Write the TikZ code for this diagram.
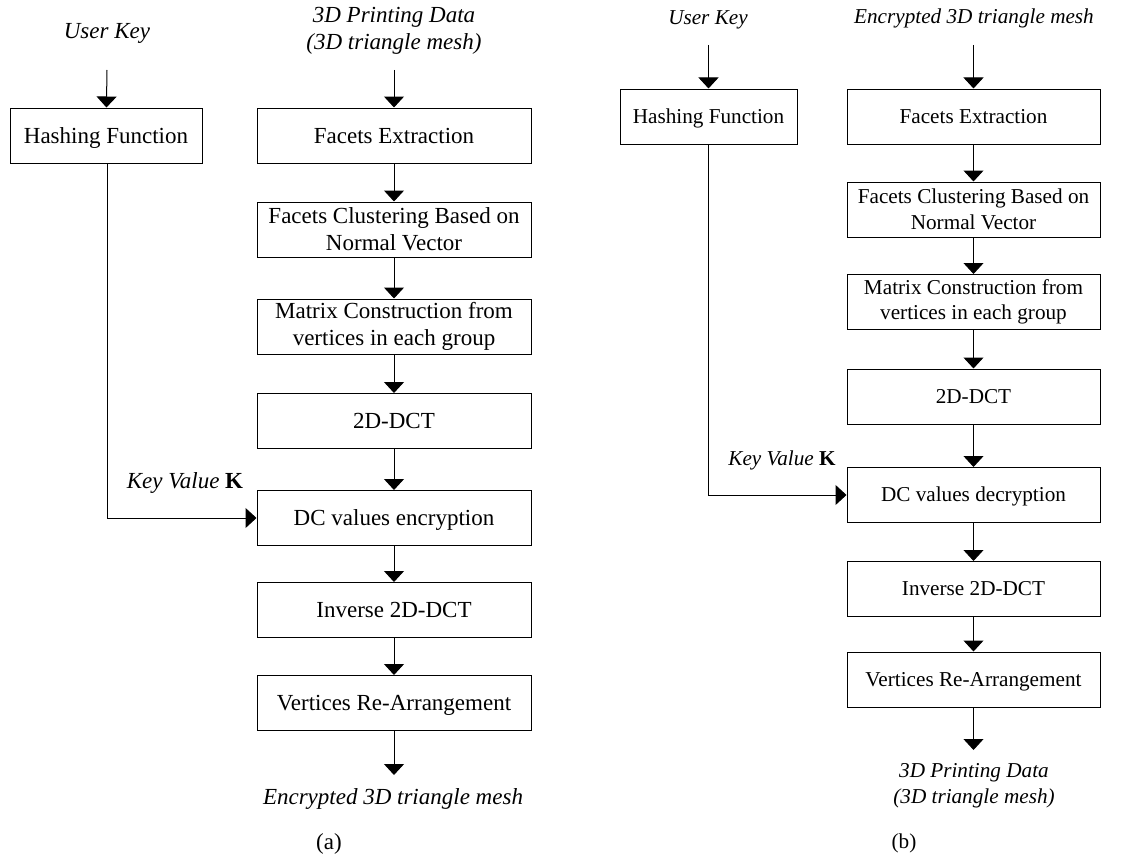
\documentclass[tikz,border=0pt]{standalone}
\usepackage{fontspec}
\setmainfont{Liberation Serif}
\usetikzlibrary{arrows.meta}
\tikzset{
  fa/.style={font=\fontsize{23}{27}\selectfont},
  fb/.style={font=\fontsize{21.2}{25.5}\selectfont},
  box/.style={draw, line width=1pt, minimum height=55pt, inner sep=0pt, align=center},
  onea/.style={text height=20pt, text depth=5pt},
  oneb/.style={text height=18.4pt, text depth=4.6pt},
  lbl/.style={inner sep=0pt, align=center},
  arr/.style={-{Triangle[width=20pt,length=11pt]}, line width=1pt}
}
\begin{document}
\begin{tikzpicture}[x=1pt,y=-1pt]
\useasboundingbox (0,0) rectangle (1146,859);
% ---------- (a) ----------
\begin{scope}[every node/.append style={fa}]
\node[lbl] (uk1) at (107,33) {\textit{User Key}};
\coordinate (uk1s) at (107,70);
\node[box, onea, minimum width=192pt] (hf1) at (106,135.5) {Hashing Function};
\node[lbl] (pd1) at (394,31) {\textit{3D Printing Data}\\\textit{(3D triangle mesh)}};
\coordinate (pd1s) at (394,70);
\node[box, onea, minimum width=274pt] (fe1) at (394,135.5) {Facets Extraction};
\node[box, minimum width=274pt] (fc1) at (394,229.5) {Facets Clustering Based on\\Normal Vector};
\node[box, minimum width=274pt] (mc1) at (394,326.5) {Matrix Construction from\\vertices in each group};
\node[box, onea, minimum width=274pt] (dct1) at (394,421) {2D-DCT};
\node[box, onea, minimum width=274pt] (dc1) at (394,518) {DC values encryption};
\node[box, onea, minimum width=274pt] (inv1) at (394,610) {Inverse 2D-DCT};
\node[box, onea, minimum width=274pt] (vr1) at (394,703) {Vertices Re-Arrangement};
\coordinate (out1n) at (394,775);
\node[lbl] (out1) at (393,799) {\textit{Encrypted 3D triangle mesh}};
\node[lbl] (kv1) at (185,483) {\textit{Key Value} \textbf{K}};
\node[lbl] (capa) at (329,844) {(a)};
\end{scope}
\draw[arr] (uk1s) -- (hf1);
\draw[arr] (pd1s) -- (fe1);
\draw[arr] (fe1) -- (fc1);
\draw[arr] (fc1) -- (mc1);
\draw[arr] (mc1) -- (dct1);
\draw[arr] (dct1) -- (dc1);
\draw[arr] (dc1) -- (inv1);
\draw[arr] (inv1) -- (vr1);
\draw[arr] (vr1) -- (out1n);
\draw[arr] ([xshift=1pt]hf1.south) |- (dc1.west);
% ---------- (b) ----------
\begin{scope}[every node/.append style={fb}]
\node[lbl] (uk2) at (708,20) {\textit{User Key}};
\coordinate (uk2s) at (708.5,45);
\node[box, oneb, minimum width=177pt] (hf2) at (708.5,116.5) {Hashing Function};
\node[lbl] (enc2) at (974,18) {\textit{Encrypted 3D triangle mesh}};
\coordinate (enc2s) at (973.5,45);
\node[box, oneb, minimum width=253pt] (fe2) at (973.5,116.5) {Facets Extraction};
\node[box, minimum width=253pt] (fc2) at (973.5,209.5) {Facets Clustering Based on\\Normal Vector};
\node[box, minimum width=253pt] (mc2) at (973.5,302) {Matrix Construction from\\vertices in each group};
\node[box, oneb, minimum width=253pt] (dct2) at (973.5,396.5) {2D-DCT};
\node[box, oneb, minimum width=253pt] (dc2) at (973.5,495) {DC values decryption};
\node[box, oneb, minimum width=253pt] (inv2) at (973.5,589) {Inverse 2D-DCT};
\node[box, oneb, minimum width=253pt] (vr2) at (973.5,679.5) {Vertices Re-Arrangement};
\coordinate (out2n) at (973.5,750);
\node[lbl] (pd2) at (974,785.5) {\textit{3D Printing Data}\\\textit{(3D triangle mesh)}};
\node[lbl] (kv2) at (782,460) {\textit{Key Value} \textbf{K}};
\node[lbl] (capb) at (904,843) {(b)};
\end{scope}
\draw[arr] (uk2s) -- (hf2);
\draw[arr] (enc2s) -- (fe2);
\draw[arr] (fe2) -- (fc2);
\draw[arr] (fc2) -- (mc2);
\draw[arr] (mc2) -- (dct2);
\draw[arr] (dct2) -- (dc2);
\draw[arr] (dc2) -- (inv2);
\draw[arr] (inv2) -- (vr2);
\draw[arr] (vr2) -- (out2n);
\draw[arr] (hf2.south) |- (dc2.west);
\end{tikzpicture}
\end{document}
